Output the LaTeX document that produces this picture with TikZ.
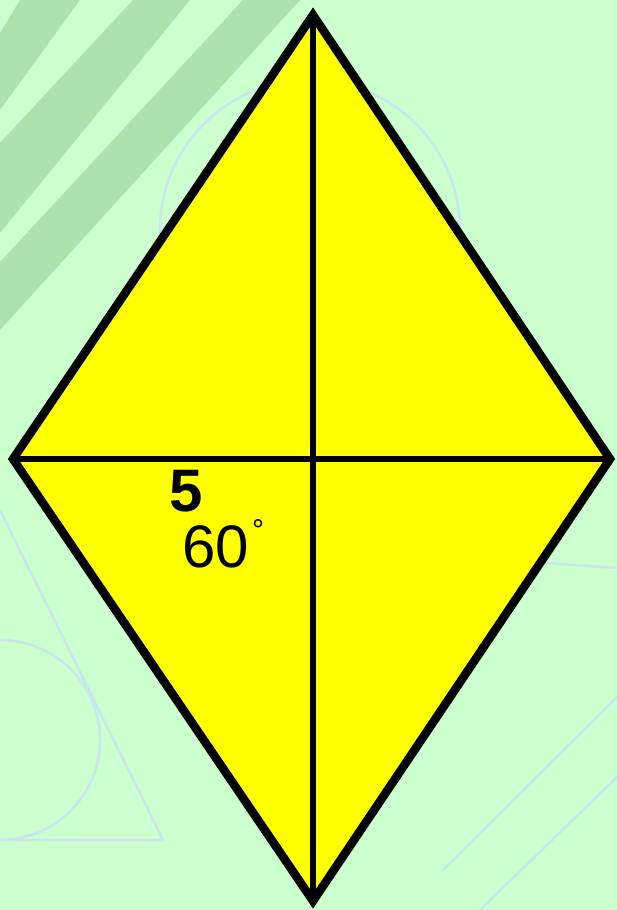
\documentclass[tikz,border=0pt]{standalone}
\usepackage{fontspec}
\setmainfont{Liberation Sans}
\definecolor{bgGreen}{RGB}{204,255,206}
\definecolor{stripeGreen}{RGB}{172,226,176}
\definecolor{markBlue}{RGB}{200,230,236}
\definecolor{rhombYellow}{RGB}{255,255,0}

\begin{document}
\begin{tikzpicture}
[x=1pt,y=-1pt,
  faceDecorate/.style={fill=rhombYellow,draw=black,line width=8.5pt,line join=miter},%
  lineDecorate/.style={-,line width=6pt},%
  markDecorate/.style={draw=markBlue,line width=2.5pt},%
  labelDecorate/.style={inner sep=0pt,font=\fontsize{60}{60}\selectfont}]
%% background
\clip (0,0) rectangle (617,910);
\fill[bgGreen] (0,0) rectangle (617,910);
\foreach \a/\b/\c/\d in {20/80/110/33, 133/190/233/143, 243/300/330/262} {
  \fill[stripeGreen] (\a,0) -- (\b,0) -- (0,\c) -- (0,\d) -- cycle;
}
%% faint marks behind
\draw[markDecorate] (310,230) circle (150);
\draw[markDecorate] (0,740) circle (100);
\draw[markDecorate] (0,510) -- (163,840) -- (0,840);
\draw[markDecorate] (547,563) -- (617,568);
\draw[markDecorate] (443,870) -- (617,697);
\draw[markDecorate] (480,910) -- (617,777);
%% nodes or vertices
\foreach \nodename/\x/\y in {top/313/15, left/13/459, right/610/459, bottom/313/901} {
  \coordinate (\nodename) at (\x,\y);
}
\draw[faceDecorate] (top) -- (right) -- (bottom) -- (left) -- cycle;
%% diagonals
\path
\foreach \startnode/\endnode in {top/bottom, left/right} {
  (\startnode) edge[lineDecorate] (\endnode)
};
%% labels
\node (side) at (186,491) [labelDecorate] {\bfseries 5};
\node (angle) at (216,547) [labelDecorate] {60};
\node (degree) at (258,530) [inner sep=0pt,font=\fontsize{30}{30}\selectfont] {°};
\end{tikzpicture}
\end{document}
